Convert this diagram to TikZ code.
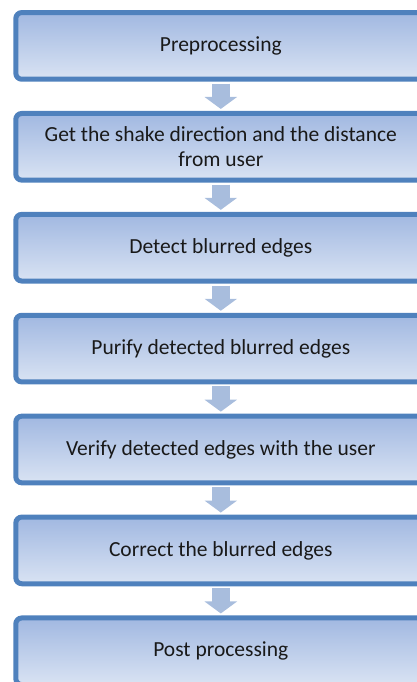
\documentclass[tikz,border=0pt]{standalone}
\usepackage{fontspec}
\setmainfont{Carlito}
\usepackage{tikz}
\usetikzlibrary{positioning,arrows.meta}

\definecolor{boxline}{RGB}{79,129,189}
\definecolor{boxtop}{RGB}{161,184,225}
\definecolor{boxbottom}{RGB}{217,227,243}
\definecolor{flowfill}{RGB}{168,189,221}

\begin{document}
\begin{tikzpicture}[
                x=1pt, y=1pt,
                node distance=29.2pt,
                stage/.style={draw=boxline, line width=5pt, rounded corners=6pt,
                    top color=boxtop, bottom color=boxbottom,
                    minimum width=410pt, minimum height=66.7pt, outer sep=2.5pt,
                    inner sep=0pt, align=center, text=black!90,
                    font=\fontsize{21.5}{25}\selectfont},
                flow/.style={draw=flowfill, line width=18pt,
                    -{Triangle[width=32pt,length=12pt]},
                    shorten <=2pt, shorten >=2pt}
            ]
                \useasboundingbox (0,0) rectangle (417,-682);
                \node [stage] (pre) at (220.8,-45.9) {Preprocessing};
                \node [stage, below=of pre] (get) {Get the shake direction and the distance\\from user};
                \node [stage, below=of get] (detect) {Detect blurred edges};
                \node [stage, below=of detect] (purify) {Purify detected blurred edges};
                \node [stage, below=of purify] (verify) {Verify detected edges with the user};
                \node [stage, below=of verify] (correct) {Correct the blurred edges};
                \node [stage, below=of correct] (post) {Post processing};
                \foreach \a/\b in {pre/get,get/detect,detect/purify,purify/verify,verify/correct,correct/post} {
                    \draw [flow] (\a) -- (\b);
                }
            \end{tikzpicture}
\end{document}
